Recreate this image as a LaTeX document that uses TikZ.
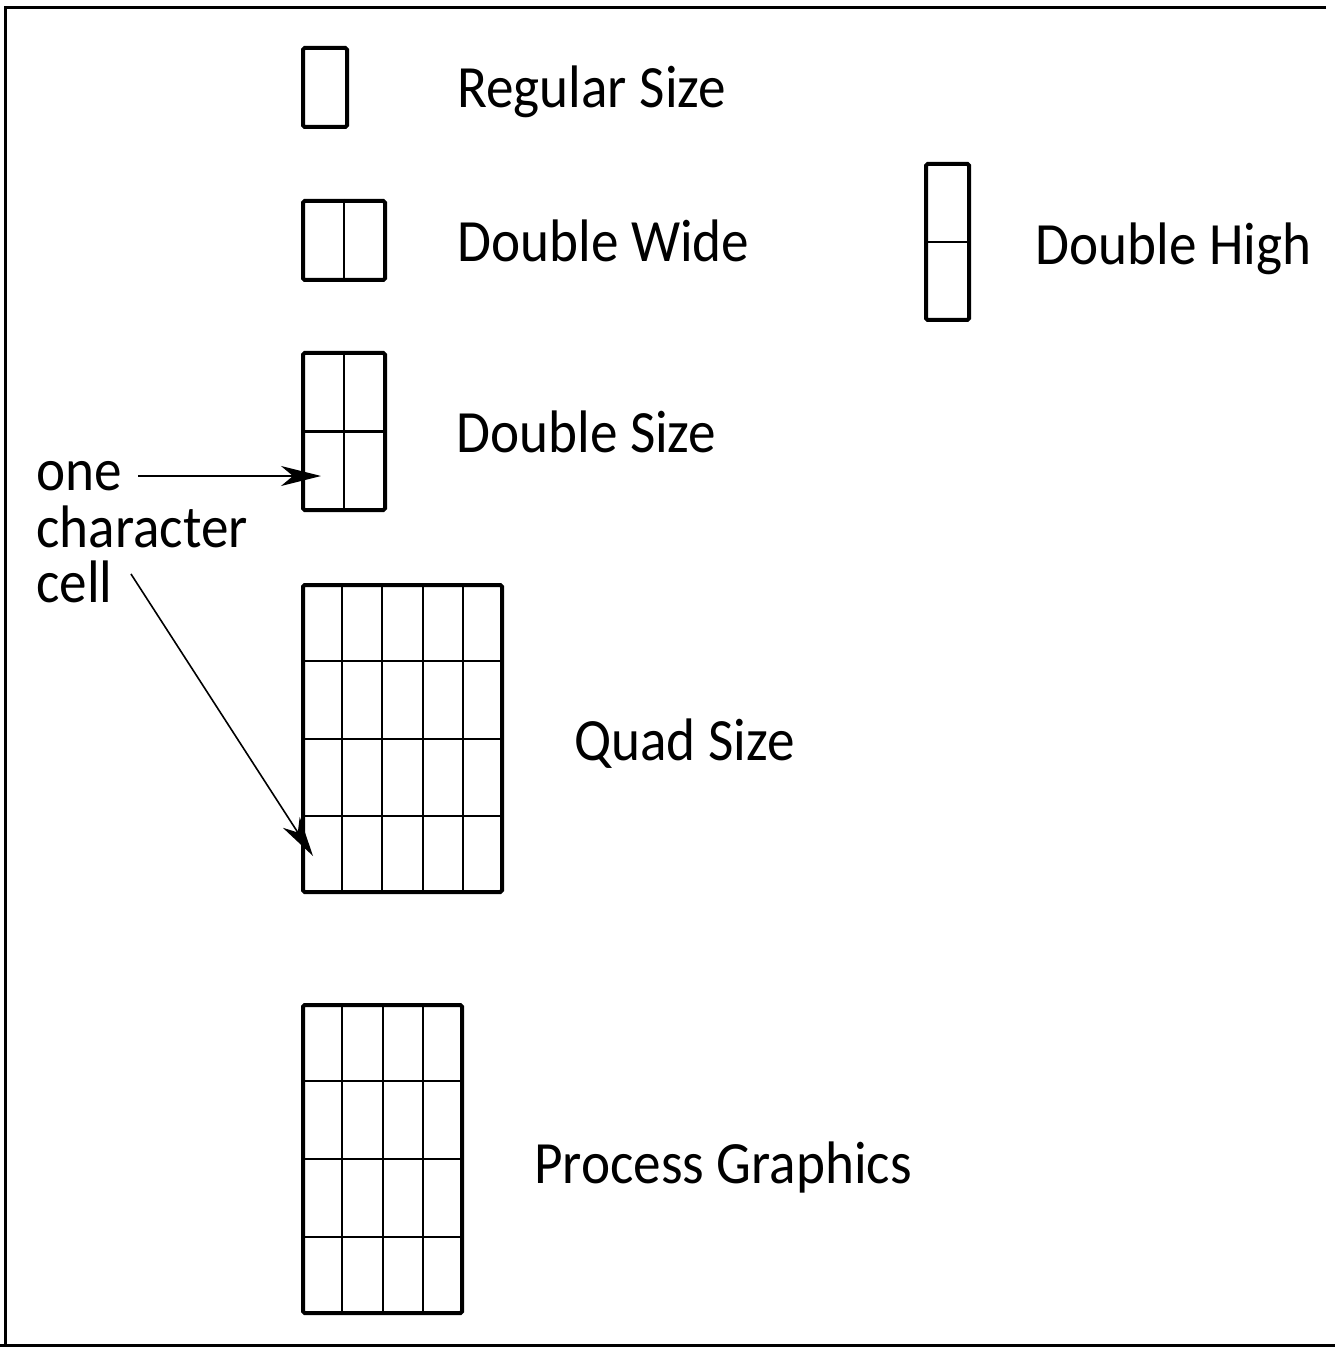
\documentclass[tikz,border=0pt]{standalone}
\usepackage{fontspec}
\setmainfont{Carlito}[FakeStretch=0.92]
\usetikzlibrary{calc,arrows.meta}

\tikzset{
  cellbox/.style={draw, line width=2pt, rounded corners=0.8pt, inner sep=0pt, minimum width=#1},
  gridline/.style={line width=1pt},
  frameline/.style={line width=1.5pt},
  label/.style={anchor=base west, inner sep=0pt, font=\fontsize{30}{33}\selectfont},
  pointer/.style={line width=0.8pt, -{Stealth[length=20pt,width=10pt,inset=6pt]}}
}

\begin{document}
\begin{tikzpicture}[x=0.5pt, y=-0.5pt]
  \useasboundingbox (0,0) rectangle (1335,1347);

  % open frame: left, top and bottom rules
  \draw[frameline] (1326,8) -- (5,8) -- (5,1345);
  \draw[frameline] (0,1345) -- (1335,1345);

  % character cell boxes
  \node[cellbox=22pt,   minimum height=39.5pt] (reg)  at (325,87.5)   {};
  \node[cellbox=41pt,   minimum height=39.5pt] (dw)   at (344,240.5)  {};
  \node[cellbox=21.5pt, minimum height=78pt]   (dh)   at (947.5,242)  {};
  \node[cellbox=41pt,   minimum height=78.5pt] (ds)   at (344,431.5)  {};
  \node[cellbox=99.5pt, minimum height=153.5pt] (quad) at (402.5,738.5) {};
  \node[cellbox=79.5pt, minimum height=154pt]  (proc) at (382.5,1159) {};

  % cell divisions
  \draw[gridline] (dw.north) -- (dw.south);
  \draw[gridline] (dh.west) -- (dh.east);
  \draw[gridline] (ds.north) -- (ds.south);
  \draw[gridline] (ds.west) -- (ds.east);
  \foreach \k in {1,...,4}
    \draw[gridline] ($(quad.north west)!\k/5!(quad.north east)$) -- ($(quad.south west)!\k/5!(quad.south east)$);
  \foreach \k in {1,2,3}
    \draw[gridline] ($(quad.north west)!\k/4!(quad.south west)$) -- ($(quad.north east)!\k/4!(quad.south east)$);
  \foreach \k in {1,2,3} {
    \draw[gridline] ($(proc.north west)!\k/4!(proc.north east)$) -- ($(proc.south west)!\k/4!(proc.south east)$);
    \draw[gridline] ($(proc.north west)!\k/4!(proc.south west)$) -- ($(proc.north east)!\k/4!(proc.south east)$);
  }

  % captions
  \node[label] (treg)  at (457,108)  {Regular Size};
  \node[label] (tdw)   at (457,262)  {Double Wide};
  \node[label] (tdh)   at (1035,265) {Double High};
  \node[label] (tds)   at (456,452)  {Double Size};
  \node[label] (tquad) at (574,760)  {Quad Size};
  \node[label] (tproc) at (534,1183) {Process Graphics};

  % "one character cell" callout
  \node[label] (lblone)  at (36,490) {one};
  \node[label] (lblchar) at (36,547) {character};
  \node[label] (lblcell) at (36,602) {cell};

  \coordinate (cellA) at (321,476);
  \coordinate (cellB) at (313,856);
  \draw[pointer] ([xshift=8pt]lblone.east |- cellA) -- (cellA);
  \draw[pointer] ([shift={(18,14)}]lblcell.north east) -- (cellB);
\end{tikzpicture}
\end{document}
